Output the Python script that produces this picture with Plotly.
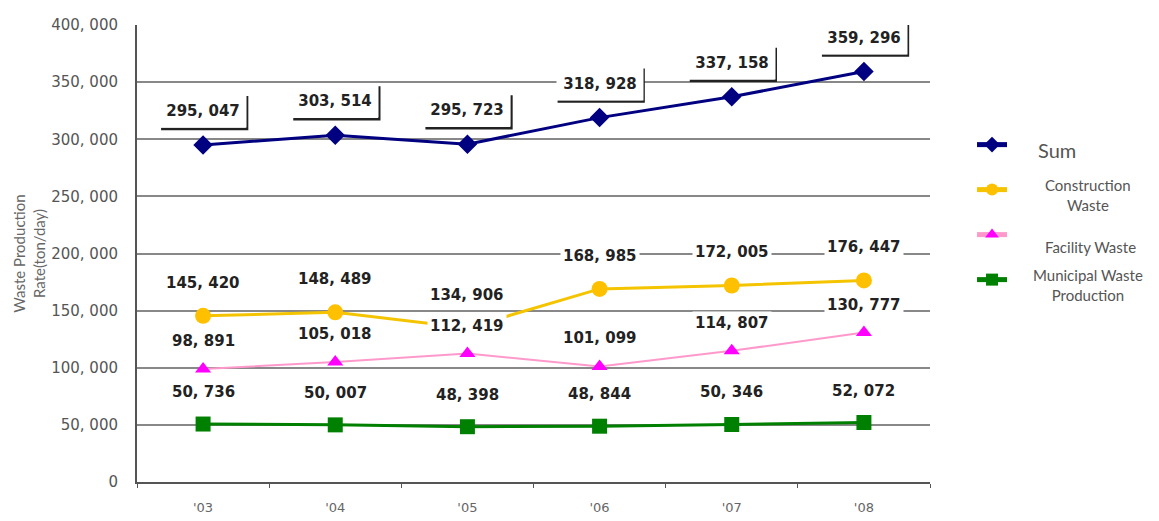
import plotly.graph_objects as go

categories = ["'03", "'04", "'05", "'06", "'07", "'08"]
sum_vals = [295047, 303514, 295723, 318928, 337158, 359296]
construction = [145420, 148489, 134906, 168985, 172005, 176447]
facility = [98891, 105018, 112419, 101099, 114807, 130777]
municipal = [50736, 50007, 48398, 48844, 50346, 52072]

series_names = ["Sum", "Construction<br>Waste", "Facility Waste", "Municipal Waste<br>Production"]

y_tickvals = [0, 50000, 100000, 150000, 200000, 250000, 300000, 350000, 400000]
y_ticktext = ["0", "50, 000", "100, 000", "150, 000", "200, 000", "250, 000", "300, 000", "350, 000", "400, 000"]


def fmt(v):
    return f"{v:,}".replace(",", ", ")


styles = [
    ("#000080", "#000080", "diamond", 15, 3, 34),
    ("#F5C400", "#FFC000", "circle", 16, 3, 33),
    ("#FF99CC", "#FF00FF", "triangle-up", 14, 2, 28),
    ("#008000", "#008000", "square", 15, 3, 32),
]
all_vals = [sum_vals, construction, facility, municipal]

fig = go.Figure()
for i, (vals, (lc, mc, sym, ms, lw, _)) in enumerate(zip(all_vals, styles)):
    fig.add_trace(go.Scatter(
        x=categories, y=vals, name="&nbsp;", mode="lines+markers",
        line=dict(color=lc, width=lw),
        marker=dict(color=mc, symbol=sym, size=ms),
        legendgroup=f"g{i}",
    ))

annotations = []
shapes = []
label_font = dict(family="DejaVu Sans", size=15, color="#222222", weight="bold")
# Sum labels (boxed callouts)
for c, v in zip(categories, sum_vals):
    annotations.append(dict(
        x=c, y=v, xref="x", yref="y", text=fmt(v), showarrow=False,
        yshift=styles[0][5], font=label_font, bgcolor="white", width=84, height=30,
    ))
    shapes.append(dict(
        type="path", xref="x", yref="y", xsizemode="pixel", ysizemode="pixel",
        xanchor=c, yanchor=v, path="M -42,16 L 44,16 L 44,49",
        line=dict(color="#222222", width=2.5), layer="above",
    ))
for vals, st in zip(all_vals[1:], styles[1:]):
    for c, v in zip(categories, vals):
        annotations.append(dict(
            x=c, y=v, xref="x", yref="y", text=fmt(v), showarrow=False,
            yshift=st[5], font=label_font, bgcolor="white", borderpad=2,
        ))

# legend texts
legend_text_pos = [(1.160, 0.727, 20), (1.199, 0.628, 15), (1.203, 0.514, 15), (1.199, 0.431, 15)]
for name, (lx, ly, fs) in zip(series_names, legend_text_pos):
    annotations.append(dict(
        x=lx, y=ly, xref="paper", yref="paper", text=name, showarrow=False,
        xanchor="center", yanchor="middle", align="center",
        font=dict(family="Lato", size=fs, color="#555555"),
    ))

fig.update_layout(
    width=1159, height=521,
    margin=dict(l=137, r=229, t=25, b=39),
    plot_bgcolor="white", paper_bgcolor="white",
    font=dict(family="Lato", color="#555555"),
    annotations=annotations, shapes=shapes,
    showlegend=True,
    legend=dict(
        x=1.053, y=0.770, xanchor="left", yanchor="top",
        traceorder="grouped", tracegroupgap=26, itemsizing="constant",
        font=dict(family="Lato", size=12, color="#555555"),
        bgcolor="rgba(0,0,0,0)",
    ),
)
fig.update_xaxes(
    type="category", range=[-0.5, 5.5], automargin=False,
    showline=True, linecolor="#555555", linewidth=2,
    ticks="outside", tickson="boundaries", ticklen=4, tickcolor="#555555",
    ticklabelstandoff=12,
    tickfont=dict(family="DejaVu Sans", size=13, color="#666666"),
    showgrid=False,
)
fig.update_yaxes(
    range=[0, 400000], tickvals=y_tickvals, ticktext=y_ticktext, automargin=False,
    showline=True, linecolor="#555555", linewidth=2,
    ticks="", ticklabelstandoff=14,
    showgrid=True, gridcolor="#888888", gridwidth=2, zeroline=False,
    tickfont=dict(family="DejaVu Sans", size=15, color="#555555"),
    title=dict(text="Waste Production<br>Rate(ton/day)", standoff=2,
               font=dict(family="Lato", size=15, color="#666666")),
)

fig.write_html("out.html", config={"displayModeBar": False},
               post_script="document.body.style.margin='0';")
